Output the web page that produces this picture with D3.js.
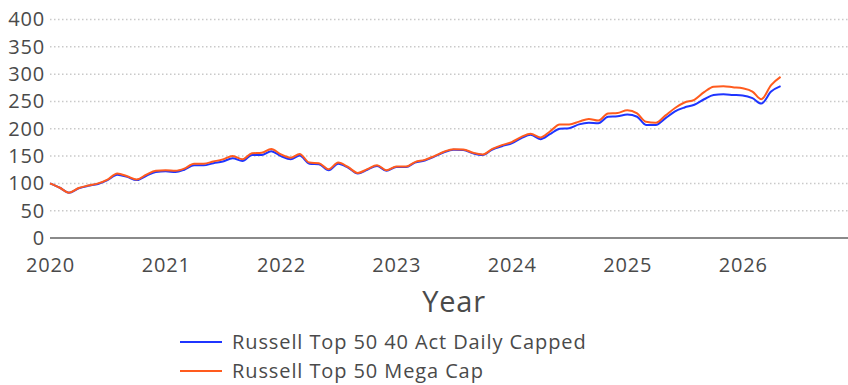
<!DOCTYPE html>
<html>
<head>
<meta charset="utf-8">
<script src="https://cdn.jsdelivr.net/npm/d3@7"></script>
<style>
  html, body { margin: 0; padding: 0; background: #fff; }
  svg { display: block; }
  text { font-family: "Open Sans", "Lato", sans-serif; fill: #4a4a4a; }
</style>
</head>
<body>
<svg id="chart" width="848" height="385"></svg>
<script>
// Monthly index levels, Jan 2020 through May 2026 (base 100)
const startMonth = new Date(2020, 0, 1);
const seriesNames = ["Russell Top 50 40 Act Daily Capped", "Russell Top 50 Mega Cap"];
const seriesColors = ["#1f35ff", "#ff5b1e"];

const cappedValues = [
  100, 92, 83, 91, 95.5, 99, 106, 116, 112, 106, 114, 121,
  122, 121, 125, 133, 133, 137, 140, 146, 141, 152, 152, 159,
  150, 144, 151, 136, 135, 124, 136, 129, 118, 125, 132, 123,
  130, 130, 138, 142, 149, 157, 161.5, 161, 155, 152, 162, 168,
  173.5, 183, 189, 181, 190, 200, 201, 208, 211, 210, 222, 223,
  226, 222, 207, 207, 219, 232, 239, 244, 254, 262, 263, 262,
  261, 256, 246, 268, 278
];
const megaCapValues = [
  100, 92, 83, 91.5, 96, 100, 107, 118, 113, 107, 116, 123,
  124, 123, 127, 136, 136, 140, 144, 150, 144, 155, 156, 163,
  153, 147, 154, 138, 137, 126, 138, 130, 119, 126, 133, 124,
  131, 131, 139, 143, 150, 158, 162.5, 162, 156, 153, 163, 170,
  175.5, 185, 191, 184, 195, 208, 208, 213, 218, 215, 228, 229,
  234, 228, 213, 211, 224, 238, 248, 253, 267, 277, 278, 276,
  274, 268, 254, 280, 295
];
const yTicks = [0, 50, 100, 150, 200, 250, 300, 350, 400];
const xTickYears = [2020, 2021, 2022, 2023, 2024, 2025, 2026];
const xTitle = "Year";

const svg = d3.select("#chart");
const width = 848;

const x = d3.scaleTime()
  .domain([new Date(2020, 0, 1), new Date(2027, 0, 1)])
  .range([50, 858]);
const y = d3.scaleLinear().domain([0, 400]).range([238, 19.5]);

// Dotted horizontal grid
svg.append("g")
  .selectAll("line")
  .data(yTicks.filter(d => d !== 0))
  .join("line")
  .attr("x1", x.range()[0])
  .attr("x2", width)
  .attr("y1", d => y(d))
  .attr("y2", d => y(d))
  .attr("stroke", "#c9c9c9")
  .attr("stroke-width", 1.5)
  .attr("stroke-dasharray", "1.5,2.5");

// Baseline at zero
svg.append("line")
  .attr("x1", x.range()[0])
  .attr("x2", width)
  .attr("y1", y(0))
  .attr("y2", y(0))
  .attr("stroke", "#8a8a8a")
  .attr("stroke-width", 2);

// Y axis labels
const yAxis = svg.append("g")
  .attr("transform", `translate(${x.range()[0]},0)`)
  .call(d3.axisLeft(y).tickValues(yTicks).tickSize(0).tickPadding(5));
yAxis.select(".domain").remove();
yAxis.selectAll("text")
  .style("font-size", "20px")
  .style("letter-spacing", "0.8px")
  .attr("fill", "#4a4a4a");

// X axis labels
const xAxis = svg.append("g")
  .attr("transform", `translate(0,${y(0)})`)
  .call(d3.axisBottom(x)
    .tickValues(xTickYears.map(yr => new Date(yr, 0, 1)))
    .tickFormat(d3.timeFormat("%Y"))
    .tickSize(0)
    .tickPadding(20));
xAxis.select(".domain").remove();
xAxis.selectAll("text")
  .style("font-size", "20px")
  .style("letter-spacing", "0.8px")
  .attr("fill", "#4a4a4a");

// Axis title
svg.append("text")
  .attr("x", (x.range()[0] + x.range()[1]) / 2)
  .attr("y", 312)
  .attr("text-anchor", "middle")
  .style("font-size", "29px")
  .style("letter-spacing", "0.8px")
  .text(xTitle);

// Series lines
const dates = cappedValues.map((_, i) => d3.timeMonth.offset(startMonth, i));
const line = d3.line()
  .x((d, i) => x(dates[i]))
  .y(d => y(d))
  .curve(d3.curveMonotoneX);

[cappedValues, megaCapValues].forEach((vals, k) => {
  svg.append("path")
    .datum(vals)
    .attr("fill", "none")
    .attr("stroke", seriesColors[k])
    .attr("stroke-width", 2)
    .attr("stroke-linejoin", "round")
    .attr("d", line);
});

// Legend
const legend = svg.append("g").attr("transform", "translate(180,342)");
seriesNames.forEach((name, k) => {
  const row = legend.append("g").attr("transform", `translate(0,${k * 29})`);
  row.append("line")
    .attr("x1", 0).attr("x2", 42)
    .attr("y1", 0).attr("y2", 0)
    .attr("stroke", seriesColors[k])
    .attr("stroke-width", 1.8);
  row.append("text")
    .attr("x", 52)
    .attr("y", 0)
    .attr("dy", "0.35em")
    .style("font-size", "20px")
    .style("letter-spacing", "0.9px")
    .text(name);
});
</script>
</body>
</html>
